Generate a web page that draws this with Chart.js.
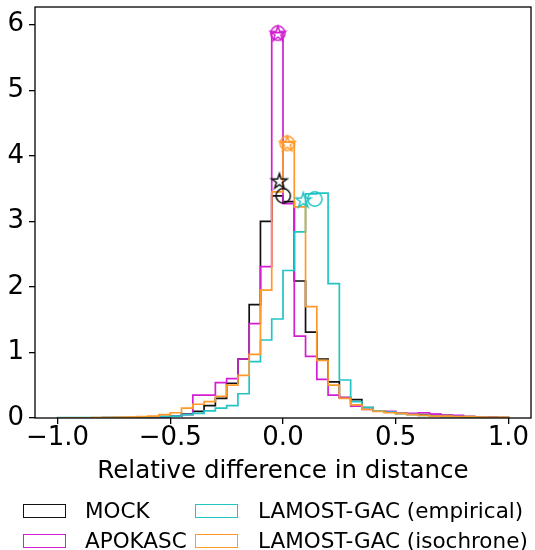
<!DOCTYPE html>
<html>
<head>
<meta charset="utf-8">
<script src="https://cdn.jsdelivr.net/npm/chart.js@4.4.0/dist/chart.umd.min.js"></script>
<style>
    html, body { margin: 0; padding: 0; background: #fff; }
    #wrap { position: relative; width: 535px; height: 550px; }
    #legend { position: absolute; left: 0; top: 0; width: 535px; height: 550px; pointer-events: none;
              font-family: 'DejaVu Sans', sans-serif; font-size: 21.5px; color: #000; }
    .box { position: absolute; width: 41px; height: 12px; border: 1.5px solid; }
    .lbl { position: absolute; line-height: 26px; white-space: nowrap; }
</style>
</head>
<body>
<div id="wrap">
    <canvas id="distChart" width="535" height="550"></canvas>
    <div id="legend"></div>
</div>
<script>
// bins of 0.05 from -1 to 1
const binEdges = Array.from({length: 41}, (_, i) => Math.round((-1 + 0.05 * i) * 100) / 100);

const seriesLabels = ['MOCK', 'APOKASC', 'LAMOST-GAC (empirical)', 'LAMOST-GAC (isochrone)'];
const seriesColors = ['#111111', '#d21fd2', '#22c4c4', '#ff9a2a'];

const mockValues = [
    0.003, 0.003, 0.003, 0.004, 0.005, 0.006, 0.008, 0.01, 0.015, 0.02,
    0.03, 0.06, 0.10, 0.19, 0.30, 0.53, 0.90, 1.73, 3.00, 3.39,
    3.30, 2.09, 1.31, 0.90, 0.55, 0.31, 0.28, 0.16, 0.11, 0.09,
    0.07, 0.06, 0.05, 0.05, 0.04, 0.03, 0.02, 0.01, 0.01, 0.005
];
const apokascValues = [
    0, 0, 0, 0, 0, 0, 0.003, 0.004, 0.006, 0.01,
    0.03, 0.05, 0.35, 0.35, 0.54, 0.60, 0.90, 1.44, 2.31, 5.88,
    3.27, 1.25, 0.94, 0.59, 0.35, 0.31, 0.18, 0.13, 0.11, 0.10,
    0.08, 0.07, 0.08, 0.06, 0.04, 0.04, 0.02, 0.01, 0.01, 0.005
];
const empiricalValues = [
    0.005, 0.005, 0.005, 0.005, 0.005, 0.006, 0.008, 0.01, 0.015, 0.02,
    0.03, 0.05, 0.07, 0.11, 0.15, 0.19, 0.37, 0.86, 1.19, 1.51,
    2.25, 2.84, 3.42, 3.43, 2.05, 0.58, 0.25, 0.16, 0.11, 0.09,
    0.07, 0.05, 0.04, 0.03, 0.02, 0.02, 0.01, 0.01, 0.005, 0.005
];
const isochroneValues = [
    0, 0, 0, 0.005, 0.007, 0.01, 0.012, 0.02, 0.03, 0.05,
    0.08, 0.15, 0.21, 0.25, 0.33, 0.50, 0.65, 0.97, 1.95, 3.45,
    4.21, 3.22, 1.70, 0.88, 0.50, 0.30, 0.20, 0.13, 0.10, 0.08,
    0.07, 0.05, 0.04, 0.03, 0.03, 0.02, 0.02, 0.015, 0.01, 0.01
];

// circle and star markers near each peak
const circleX = [0.001, -0.023, 0.141, 0.019];
const circleY = [3.39, 5.87, 3.34, 4.19];
const starX = [-0.016, -0.023, 0.090, 0.019];
const starY = [3.62, 5.87, 3.33, 4.19];

const xTicks = [-1.0, -0.5, 0.0, 0.5, 1.0];
const yTicks = [0, 1, 2, 3, 4, 5, 6];

Chart.defaults.font.family = "'DejaVu Sans', sans-serif";
Chart.defaults.color = '#000';

function stepPoints(values) {
    const pts = [{x: binEdges[0], y: 0}];
    values.forEach((v, i) => pts.push({x: binEdges[i], y: v}));
    pts.push({x: binEdges[values.length], y: 0});
    return pts;
}

// marker glyphs drawn once on small canvases (keeps the layout overflow small)
function markerImage(color, shape) {
    const c = document.createElement('canvas');
    c.width = 20; c.height = 20;
    const g = c.getContext('2d');
    g.strokeStyle = color;
    g.lineWidth = 1.5;
    g.beginPath();
    if (shape === 'circle') {
        g.arc(10, 10, 7.2, 0, Math.PI * 2);
    } else {
        const R = 8, r = 3.1;
        for (let k = 0; k < 10; k++) {
            const ang = -Math.PI / 2 + k * Math.PI / 5;
            const rad = k % 2 ? r : R;
            const px = 10 + rad * Math.cos(ang), py = 10.8 + rad * Math.sin(ang);
            if (k) g.lineTo(px, py); else g.moveTo(px, py);
        }
        g.closePath();
    }
    g.stroke();
    return c;
}

const allValues = [mockValues, apokascValues, empiricalValues, isochroneValues];

const datasets = [];
allValues.forEach((vals, s) => {
    datasets.push({
        type: 'line',
        label: seriesLabels[s],
        data: stepPoints(vals),
        stepped: true,
        borderColor: seriesColors[s],
        borderWidth: 1.7,
        pointRadius: 0,
        pointHoverRadius: 0,
        pointBorderWidth: 0,
        fill: false,
        order: 4 - s
    });
    datasets.push({
        type: 'scatter',
        data: [{x: circleX[s], y: circleY[s]}],
        pointStyle: markerImage(seriesColors[s], 'circle'),
        pointRadius: 1,
        pointHoverRadius: 1,
        pointBorderWidth: 0,
        order: 0
    });
    datasets.push({
        type: 'scatter',
        data: [{x: starX[s], y: starY[s]}],
        pointStyle: markerImage(seriesColors[s], 'star'),
        pointRadius: 1,
        pointHoverRadius: 1,
        pointBorderWidth: 0,
        order: 0
    });
});

const framePlugin = {
    id: 'frame',
    afterDraw(chart) {
        const {ctx, chartArea: a} = chart;
        ctx.save();
        ctx.strokeStyle = '#000';
        ctx.lineWidth = 1.3;
        ctx.strokeRect(a.left, a.top, a.right - a.left, a.bottom - a.top);
        ctx.restore();
    }
};

new Chart(document.getElementById('distChart'), {
    data: {datasets: datasets},
    options: {
        responsive: false,
        animation: false,
        events: [],
        layout: {padding: {top: 7, right: 4, left: 0, bottom: 64}},
        plugins: {
            legend: {display: false},
            tooltip: {enabled: false}
        },
        scales: {
            x: {
                type: 'linear',
                min: -1.1,
                max: 1.1,
                afterBuildTicks: axis => { axis.ticks = xTicks.map(v => ({value: v})); },
                afterFit: axis => {
                    axis.height = 68;
                    axis.paddingLeft = 0;
                    axis.paddingRight = 0;
                },
                ticks: {
                    font: {size: 26},
                    padding: -1,
                    maxRotation: 0,
                    autoSkip: false,
                    callback: v => v.toFixed(1).replace('-', '\u2212')
                },
                grid: {drawOnChartArea: false, color: '#000', lineWidth: 1.3, tickLength: 6},
                border: {display: false},
                title: {
                    display: true,
                    text: 'Relative difference in distance',
                    font: {size: 24.5, lineHeight: 1.2},
                    padding: 0
                }
            },
            y: {
                type: 'linear',
                min: 0,
                max: 6.27,
                afterBuildTicks: axis => { axis.ticks = yTicks.map(v => ({value: v})); },
                afterFit: axis => {
                    axis.width = 35;
                    axis.paddingTop = 0;
                    axis.paddingBottom = 0;
                },
                ticks: {font: {size: 26}, padding: 5, autoSkip: false},
                grid: {drawOnChartArea: false, color: '#000', lineWidth: 1.3, tickLength: 6},
                border: {display: false}
            }
        }
    },
    plugins: [framePlugin]
});

// legend laid out in two columns like the original
const legendPos = [
    {bx: 23, by: 504, tx: 85},
    {bx: 23, by: 534, tx: 85},
    {bx: 195, by: 504, tx: 258},
    {bx: 195, by: 534, tx: 258}
];
const legendEl = document.getElementById('legend');
seriesLabels.forEach((name, i) => {
    const p = legendPos[i];
    const box = document.createElement('div');
    box.className = 'box';
    box.style.left = p.bx + 'px';
    box.style.top = p.by + 'px';
    box.style.borderColor = seriesColors[i];
    legendEl.appendChild(box);
    const lbl = document.createElement('div');
    lbl.className = 'lbl';
    lbl.style.left = p.tx + 'px';
    lbl.style.top = (p.by + 7 - 13) + 'px';
    lbl.textContent = name;
    legendEl.appendChild(lbl);
});
</script>
</body>
</html>
